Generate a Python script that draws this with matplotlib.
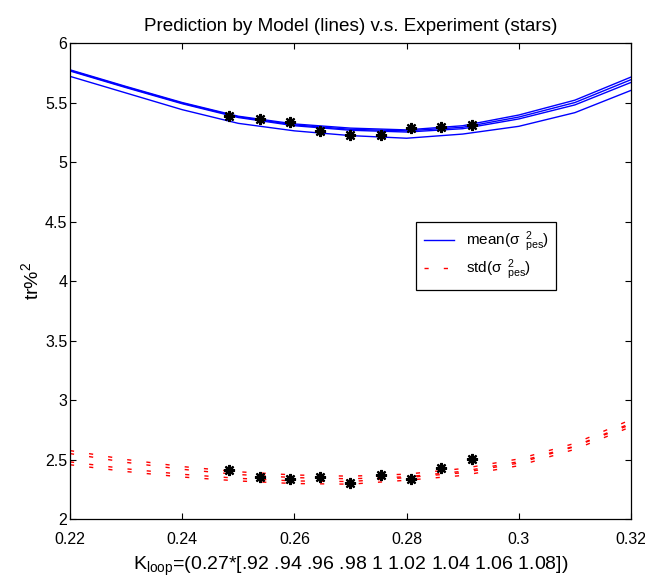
import matplotlib as mpl
mpl.use('Agg')
import matplotlib.pyplot as plt
from matplotlib.ticker import FormatStrFormatter

plt.rcParams['font.family'] = ['Liberation Sans', 'DejaVu Sans']
plt.rcParams['mathtext.fontset'] = 'custom'
plt.rcParams['mathtext.rm'] = 'Liberation Sans'
plt.rcParams['mathtext.it'] = 'Liberation Sans'
plt.rcParams['mathtext.sf'] = 'Liberation Sans'

# model grid (K_loop)
k_grid = [0.22, 0.23, 0.24, 0.25, 0.26, 0.27, 0.28, 0.29, 0.30, 0.31, 0.32]

# model mean curves (blue)
mean_1 = [5.775, 5.635, 5.500, 5.385, 5.320, 5.285, 5.270, 5.305, 5.395, 5.520, 5.714]
mean_2 = [5.770, 5.630, 5.495, 5.380, 5.312, 5.275, 5.262, 5.292, 5.378, 5.500, 5.692]
mean_3 = [5.765, 5.625, 5.490, 5.374, 5.305, 5.267, 5.252, 5.280, 5.362, 5.480, 5.669]
mean_4 = [5.720, 5.580, 5.440, 5.325, 5.262, 5.222, 5.200, 5.235, 5.300, 5.415, 5.602]

# model std curves (red dashed)
std_1 = [2.575, 2.500, 2.441, 2.397, 2.370, 2.360, 2.377, 2.424, 2.505, 2.636, 2.835]
std_2 = [2.550, 2.476, 2.418, 2.374, 2.348, 2.338, 2.355, 2.401, 2.482, 2.613, 2.805]
std_3 = [2.480, 2.422, 2.376, 2.342, 2.320, 2.315, 2.348, 2.389, 2.470, 2.609, 2.795]
std_4 = [2.456, 2.399, 2.353, 2.320, 2.298, 2.293, 2.326, 2.366, 2.448, 2.586, 2.775]

# experiment (stars)
k_scale = [.92, .94, .96, .98, 1, 1.02, 1.04, 1.06, 1.08]
exp_mean = [5.383, 5.361, 5.333, 5.257, 5.224, 5.224, 5.286, 5.294, 5.313]
exp_std = [2.408, 2.350, 2.339, 2.350, 2.300, 2.366, 2.339, 2.430, 2.507]

k_exp = [0.27 * s for s in k_scale]

fig = plt.figure(figsize=(6.45, 5.87), dpi=100)
ax = fig.add_axes([0.1085, 0.1158, 0.8698, 0.8109])

dash = (3.0, 10.9)
lab_mean = r'mean($\sigma\enspace{}^{2}_{pes}$)'
lab_std = r'std($\sigma\enspace{}^{2}_{pes}$)'
for i, m in enumerate([mean_1, mean_2, mean_3, mean_4]):
    ax.plot(k_grid, m, color='#0000ff', lw=1.0,
            label=lab_mean if i == 0 else None)
for i, s in enumerate([std_1, std_2, std_3, std_4]):
    ax.plot(k_grid, s, color='#ff0000', lw=1.0, dashes=dash,
            label=lab_std if i == 0 else None)

star = (8, 2, 0)
ax.plot(k_exp, exp_mean, ls='none', marker=star, ms=8, mew=1.6, color='black')
ax.plot(k_exp, exp_std, ls='none', marker=star, ms=8, mew=1.6, color='black')

ax.set_xlim(0.22, 0.32)
ax.set_ylim(2, 6)
ax.set_xticks([0.22, 0.24, 0.26, 0.28, 0.30, 0.32])
ax.set_yticks([2, 2.5, 3, 3.5, 4, 4.5, 5, 5.5, 6])
ax.xaxis.set_major_formatter(FormatStrFormatter('%g'))
ax.yaxis.set_major_formatter(FormatStrFormatter('%g'))
ax.tick_params(direction='in', length=4, width=0.8, top=True, right=True,
               labelsize=11.5)
ax.tick_params(axis='x', pad=9)
ax.tick_params(axis='y', pad=2)
for sp in ax.spines.values():
    sp.set_linewidth(0.9)

ax.set_title('Prediction by Model (lines) v.s. Experiment (stars)', fontsize=13.6, pad=9)
ax.set_xlabel(r'K$_{\mathregular{loop}}$=(0.27*[.92 .94 .96 .98 1 1.02 1.04 1.06 1.08])',
              fontsize=14, labelpad=6)
ax.set_ylabel(r'tr%$^{\mathregular{2}}$', fontsize=14, labelpad=2)

leg = ax.legend(loc='upper left', bbox_to_anchor=(0.617, 0.624), borderaxespad=0,
                fontsize=11, frameon=True, fancybox=False, edgecolor='black',
                framealpha=1, handlelength=2.0, handletextpad=0.75, borderpad=0.5,
                labelspacing=0.25)
leg.get_frame().set_linewidth(0.9)

fig.savefig('out.png', dpi=100)
